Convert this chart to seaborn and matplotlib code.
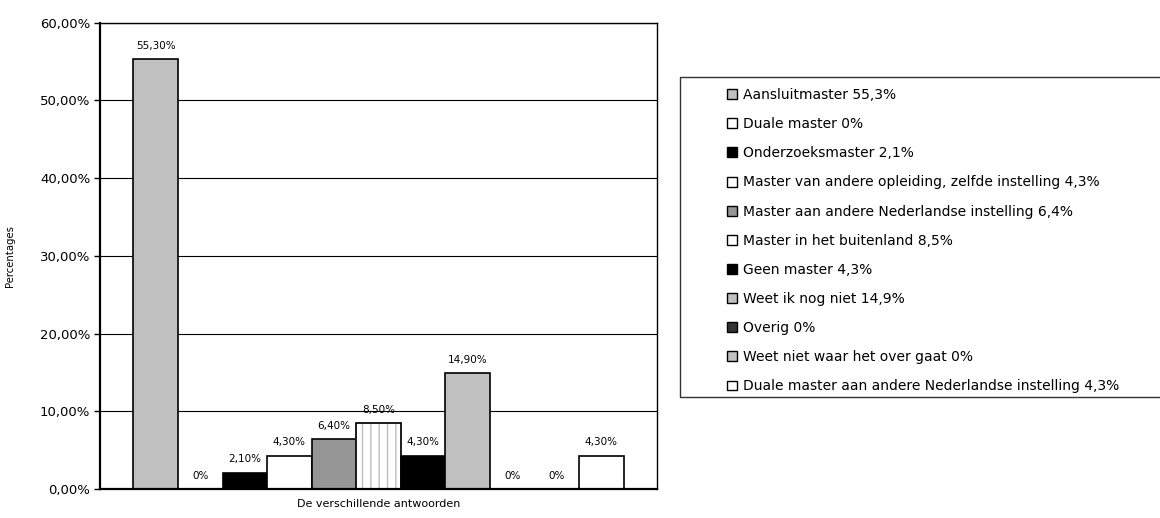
import matplotlib
matplotlib.use("Agg")
import matplotlib.pyplot as plt
import matplotlib.ticker as mticker
from matplotlib.patches import Patch, Rectangle
import pandas as pd
import seaborn as sns

# antwoordcategorieen en percentages
antwoorden = [
    "Aansluitmaster",
    "Duale master",
    "Onderzoeksmaster",
    "Master van andere opleiding, zelfde instelling",
    "Master aan andere Nederlandse instelling",
    "Master in het buitenland",
    "Geen master",
    "Weet ik nog niet",
    "Overig",
    "Weet niet waar het over gaat",
    "Duale master aan andere Nederlandse instelling",
]
percentages = [55.3, 0, 2.1, 4.3, 6.4, 8.5, 4.3, 14.9, 0, 0, 4.3]
kleuren = ["#C0C0C0", "#FFFFFF", "#000000", "#FFFFFF", "#969696", "#FFFFFF",
           "#000000", "#C0C0C0", "#333333", "#C0C0C0", "#FFFFFF"]
gestreept = "Master in het buitenland"

df = pd.DataFrame({"groep": [""] * len(antwoorden),
                   "antwoord": antwoorden,
                   "pct": percentages})

sns.set_theme(style="white")
plt.rcParams["font.family"] = ["DejaVu Sans"]
plt.rcParams.update({"text.color": "black", "axes.labelcolor": "black",
                     "xtick.color": "black", "ytick.color": "black"})

fig = plt.figure(figsize=(11.6, 5.18), dpi=100)
W, H = 1160, 518
ax = fig.add_axes([100 / W, 1 - 489 / H, 557 / W, (489 - 22.5) / H])

sns.barplot(data=df, x="groep", y="pct", hue="antwoord", hue_order=antwoorden,
            palette=kleuren, width=0.88, dodge=True, legend=False,
            edgecolor="black", linewidth=1.2, saturation=1, ax=ax)

# streepjespatroon voor 'Master in het buitenland'
idx = antwoorden.index(gestreept)
for p in ax.containers[idx]:
    p.set_hatch("||")
    if hasattr(p, "set_hatchcolor"):
        p.set_hatchcolor("#BDBDBD")
    else:
        p.set_edgecolor("#BDBDBD")
        ax.add_patch(Rectangle((p.get_x(), p.get_y()), p.get_width(), p.get_height(),
                               fill=False, edgecolor="black", linewidth=1.2, zorder=p.get_zorder() + 0.1))


def fmt_nl(v):
    return "0%" if v == 0 else f"{v:.2f}%".replace(".", ",")


for cont, v in zip(ax.containers, percentages):
    ax.bar_label(cont, labels=[fmt_nl(v)], padding=6, fontsize=7.5)

ax.set_ylim(0, 60)
ax.set_xlim(-0.5, 0.5)
ax.set_yticks(range(0, 61, 10))
ax.yaxis.set_major_formatter(mticker.FuncFormatter(lambda y, _: f"{y:.2f}%".replace(".", ",")))
ax.tick_params(axis="y", which="major", left=True, length=4, width=1, color="black",
               labelsize=9.5, pad=3)
ax.set_xticks([])
ax.grid(axis="y", color="black", linewidth=0.8)
ax.set_axisbelow(True)
for side in ["top", "right"]:
    ax.spines[side].set_color("black")
    ax.spines[side].set_linewidth(1.0)
for side in ["left", "bottom"]:
    ax.spines[side].set_color("black")
    ax.spines[side].set_linewidth(1.6)

ax.set_ylabel("Percentages", fontsize=7.3)
ax.yaxis.set_label_coords(-0.153, 0.5)
ax.set_xlabel("De verschillende antwoorden", fontsize=8)
ax.xaxis.set_label_coords(0.5, -0.022)

# legenda met kader
handles = [Patch(facecolor=c, edgecolor="black", linewidth=1.0) for c in kleuren]
handles[idx] = Patch(facecolor="white", edgecolor="black", linewidth=1.0)
labels = [f"{a} {('%g' % v).replace('.', ',')}%" for a, v in zip(antwoorden, percentages)]
fig.legend(handles, labels, loc="upper left", bbox_to_anchor=(727 / W, 1 - 88 / H),
           frameon=False, fontsize=10, handlelength=0.72, handleheight=0.72,
           handletextpad=0.45, labelspacing=1.09, borderpad=0, borderaxespad=0)
fig.patches.append(Rectangle((680 / W, 1 - 396.5 / H), 500 / W, (396.5 - 76.5) / H,
                             transform=fig.transFigure, fill=False,
                             edgecolor="#333333", linewidth=1.0))

fig.savefig("out.png", dpi=100)
